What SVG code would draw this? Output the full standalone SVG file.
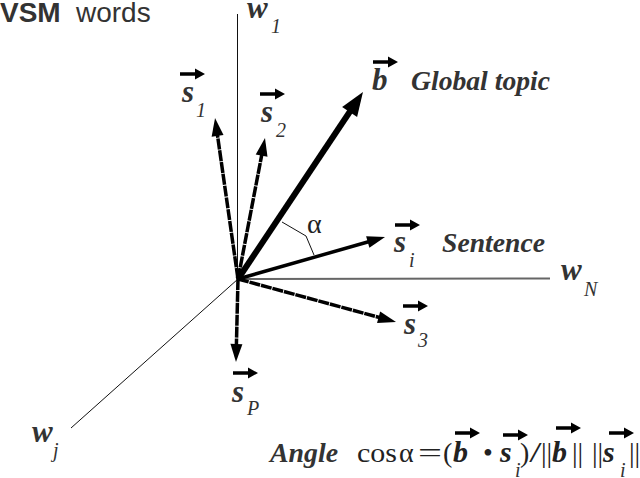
<svg xmlns="http://www.w3.org/2000/svg" xmlns:xlink="http://www.w3.org/1999/xlink" width="640" height="478" viewBox="0 0 640 478">
<style>
.lab{font-family:"Liberation Serif","Times New Roman",serif;font-weight:bold;font-style:italic;fill:#333;font-size:31px}
.sub{font-family:"Liberation Serif","Times New Roman",serif;font-style:italic;fill:#333;font-size:20px}
.word{font-family:"Liberation Serif","Times New Roman",serif;font-weight:bold;font-style:italic;fill:#333;font-size:27px}
.reg{font-family:"Liberation Serif","Times New Roman",serif;fill:#222;font-size:28px}
.fb{font-family:"Liberation Serif","Times New Roman",serif;font-weight:bold;font-style:italic;fill:#222;font-size:30px}
.vec{fill:none;stroke:#000;stroke-width:3.5;marker-end:url(#head)}
.dash{stroke-dasharray:11 0.9}
.axis{fill:none;stroke:#111;stroke-width:1}
</style>
<defs>
<marker id="head" markerUnits="userSpaceOnUse" orient="auto" overflow="visible" markerWidth="20" markerHeight="14" refX="0" refY="0">
<path d="M-9,-6 L9,0 L-9,6 Z" fill="#000"/>
</marker>
<marker id="bighead" markerUnits="userSpaceOnUse" orient="auto" overflow="visible" markerWidth="26" markerHeight="20" refX="0" refY="0">
<path d="M-12,-9 L12,0 L-12,9 Z" fill="#000"/>
</marker>
<path id="ov" d="M0,-1.8 H15 V-5.5 L25,0 L15,5.5 V1.8 H0 Z" fill="#000"/>
</defs>

<g id="title">
<text x="0" y="22" font-family="Liberation Sans, Arial, sans-serif" font-size="28" fill="#333"><tspan font-weight="bold">VSM</tspan><tspan x="76">words</tspan></text>
</g>

<g id="axes">
<line class="axis" x1="237.5" y1="14" x2="237.5" y2="279"/>
<line x1="238" y1="279" x2="550" y2="278.5" stroke="#666" stroke-width="2"/>
<line class="axis" x1="238" y1="279" x2="71" y2="428"/>
</g>

<g id="connectors">
<line class="vec dash" x1="238" y1="279" x2="216.3" y2="126.9"/>
<line class="vec dash" x1="238" y1="279" x2="263.3" y2="146.8"/>
<line x1="238" y1="279" x2="356.3" y2="102" stroke="#000" stroke-width="6" marker-end="url(#bighead)"/>
<line class="vec" x1="238" y1="279" x2="376.4" y2="239.5"/>
<line class="vec dash" x1="238" y1="279" x2="387.3" y2="319.6"/>
<line class="vec dash" x1="238" y1="279" x2="236.2" y2="353"/>
<polyline points="282,222 306,236 314,255" fill="none" stroke="#111" stroke-width="1"/>
</g>

<g id="w1">
<text class="lab" x="247" y="18">w</text>
<text class="sub" x="271" y="33">1</text>
</g>
<g id="wN">
<text class="lab" x="561" y="280">w</text>
<text class="sub" x="584" y="296">N</text>
</g>
<g id="wj">
<text class="lab" x="32" y="442">w</text>
<text class="sub" x="53" y="457">j</text>
</g>

<g id="s1">
<use xlink:href="#ov" x="180" y="74"/>
<text class="lab" x="182" y="102">s</text>
<text class="sub" x="196" y="117">1</text>
</g>
<g id="s2">
<use xlink:href="#ov" x="260" y="94"/>
<text class="lab" x="261" y="122">s</text>
<text class="sub" x="276" y="137">2</text>
</g>
<g id="b">
<use xlink:href="#ov" x="373" y="62"/>
<text class="lab" x="372" y="90">b</text>
<text class="word" x="411" y="90" textLength="139" lengthAdjust="spacingAndGlyphs">Global topic</text>
</g>
<g id="si">
<use xlink:href="#ov" x="395" y="225"/>
<text class="lab" x="394" y="252">s</text>
<text class="sub" x="409" y="267">i</text>
<text class="word" x="442" y="252" textLength="103" lengthAdjust="spacingAndGlyphs">Sentence</text>
</g>
<g id="s3">
<use xlink:href="#ov" x="403" y="306"/>
<text class="lab" x="404" y="334">s</text>
<text class="sub" x="418" y="347">3</text>
</g>
<g id="sP">
<use xlink:href="#ov" x="233" y="373"/>
<text class="lab" x="232" y="402">s</text>
<text class="sub" x="247" y="415">P</text>
</g>
<g id="alpha">
<text class="reg" x="307" y="233" fill="#333" font-size="30">α</text>
</g>

<g id="formula">
<text class="word" x="270" y="462" textLength="68" lengthAdjust="spacingAndGlyphs">Angle</text>
<text class="reg" x="357" y="462" textLength="40" lengthAdjust="spacingAndGlyphs">cos</text>
<text class="reg" x="399" y="462" font-size="30">α</text>
<text class="reg" x="418" y="462" textLength="24" lengthAdjust="spacingAndGlyphs">=</text>
<text class="reg" x="443" y="462">(</text>
<use xlink:href="#ov" x="455" y="433"/>
<text class="fb" x="453" y="462">b</text>
<text class="reg" x="483" y="462">•</text>
<use xlink:href="#ov" x="503" y="435"/>
<text class="fb" x="500" y="462">s</text>
<text class="sub" x="515" y="477">i</text>
<text class="reg" x="520" y="462">)</text>
<text class="fb" x="531" y="462" font-size="27">/</text>
<text class="reg" x="541" y="462">||</text>
<use xlink:href="#ov" x="556" y="428"/>
<text class="fb" x="552" y="462">b</text>
<text class="reg" x="572" y="462">||</text>
<text class="reg" x="592" y="462">||</text>
<use xlink:href="#ov" x="609" y="433"/>
<text class="fb" x="603" y="462">s</text>
<text class="sub" x="620" y="477">i</text>
<text class="reg" x="629" y="462">||</text>
</g>
</svg>
